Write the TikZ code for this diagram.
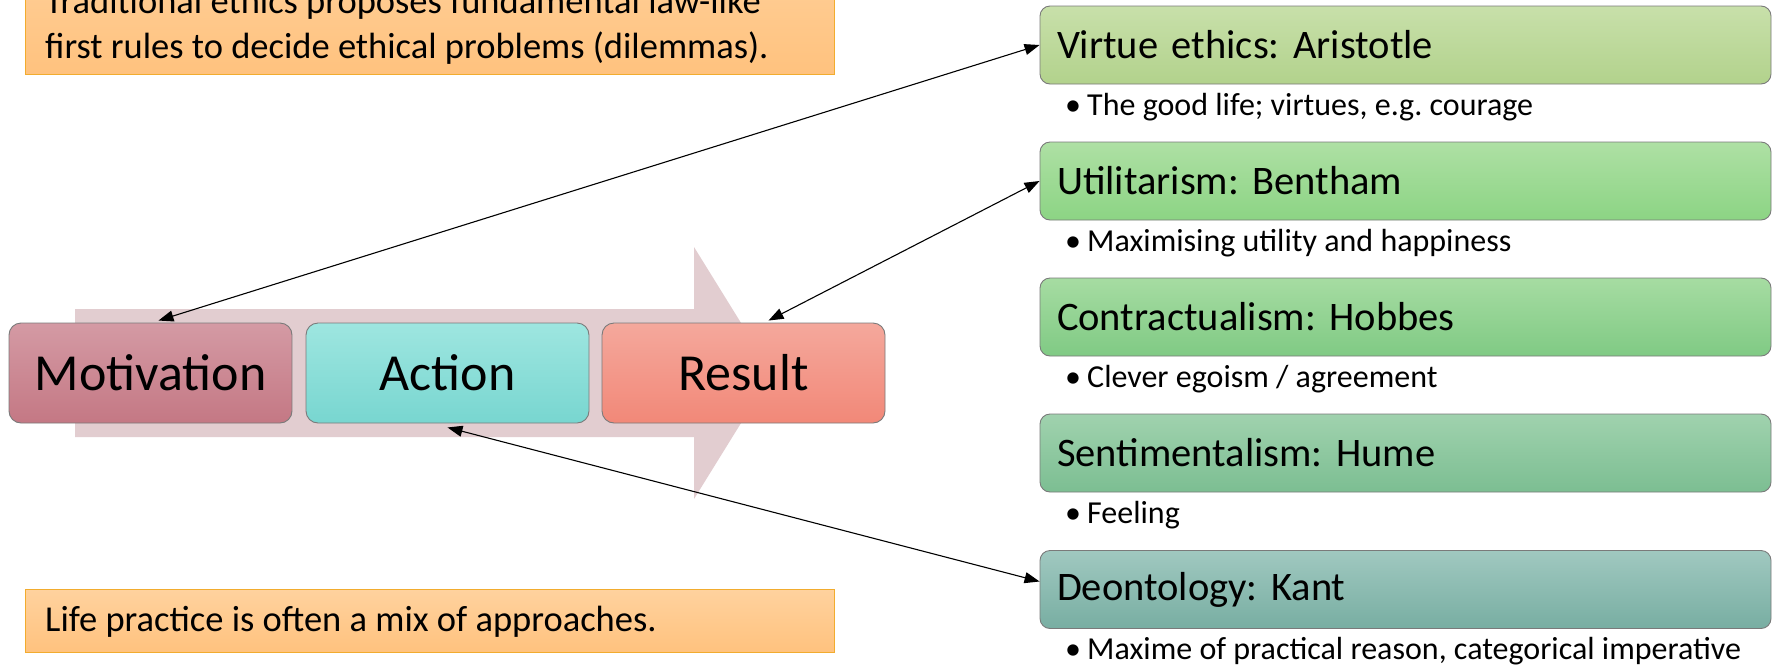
\documentclass[tikz,border=0pt]{standalone}
\usepackage{fontspec}
\setmainfont{Carlito}
\usetikzlibrary{arrows.meta,calc}
\frenchspacing

\definecolor{flowbg}{HTML}{E2CDD0}
\definecolor{motTop}{HTML}{D49AA4}
\definecolor{motBot}{HTML}{C47884}
\definecolor{actTop}{HTML}{9EE6E0}
\definecolor{actBot}{HTML}{78D6D0}
\definecolor{resTop}{HTML}{F4A89C}
\definecolor{resBot}{HTML}{F28878}
\definecolor{virTop}{HTML}{C8E0AA}
\definecolor{virBot}{HTML}{B2D28C}
\definecolor{utiTop}{HTML}{AEE0A4}
\definecolor{utiBot}{HTML}{8CD484}
\definecolor{conTop}{HTML}{A6DCA2}
\definecolor{conBot}{HTML}{80CA84}
\definecolor{senTop}{HTML}{A0D2AE}
\definecolor{senBot}{HTML}{7CBE92}
\definecolor{deoTop}{HTML}{A0C8C0}
\definecolor{deoBot}{HTML}{78AEA2}
\definecolor{noteTop}{HTML}{FFD29E}
\definecolor{noteBot}{HTML}{FFC27E}
\definecolor{noteEdge}{HTML}{F2AC2E}
\definecolor{boxEdge}{HTML}{7A7A7A}

\tikzset{
  stage/.style={rounded corners=12pt, draw=boxEdge, line width=0.9pt,
    minimum width=283pt, minimum height=100pt, inner sep=0pt,
    font=\fontsize{52}{60}\selectfont},
  school/.style={rounded corners=10pt, draw=boxEdge, line width=0.9pt,
    minimum width=731pt, minimum height=78pt, inner xsep=17pt, inner ysep=0pt,
    text width=697pt, align=left, font=\fontsize{40.5}{46}\selectfont},
  point/.style={anchor=west, inner sep=0pt, font=\fontsize{32}{37}\selectfont},
  notebox/.style={draw=noteEdge, line width=0.9pt, top color=noteTop,
    bottom color=noteBot, minimum width=809pt, inner sep=0pt},
  notetext/.style={inner sep=0pt, font=\fontsize{36.5}{42}\selectfont},
  link/.style={line width=1.1pt, {Triangle[length=15pt,width=11pt]}-{Triangle[length=15pt,width=11pt]}}
}

\newcommand{\bul}[1]{\makebox[22pt][l]{•}#1}

\begin{document}
\begin{tikzpicture}[x=1pt,y=-1pt]
\useasboundingbox (0,0) rectangle (1779,667);
\clip (0,0) rectangle (1779,667);
\fill[white] (0,0) rectangle (1779,667);

% process arrow behind the three stages
\fill[flowbg] (75,309) -- (694,309) -- (694,247) -- (772,373) -- (694,499)
  -- (694,437) -- (75,437) -- cycle;

% stages
\node[stage, top color=motTop, bottom color=motBot] (mot) at (150.5,373) {Motivation};
\node[stage, top color=actTop, bottom color=actBot] (act) at (447.5,373) {Action};
\node[stage, top color=resTop, bottom color=resBot] (res) at (743.5,373) {Result};

% ethical schools
\node[school, top color=virTop, bottom color=virBot] (vir) at (1405.5,45) {Virtue ethics: Aristotle};
\node[school, top color=utiTop, bottom color=utiBot] (uti) at (1405.5,181) {Utilitarism: Bentham};
\node[school, top color=conTop, bottom color=conBot] (con) at (1405.5,317) {Contractualism: Hobbes};
\node[school, top color=senTop, bottom color=senBot] (sen) at (1405.5,453) {Sentimentalism: Hume};
\node[school, top color=deoTop, bottom color=deoBot] (deo) at (1405.5,589.5) {Deontology: Kant};

\node[point] (virp) at (1065,107) {\bul{The good life; virtues, e.g. courage}};
\node[point] (utip) at (1065,243) {\bul{Maximising utility and happiness}};
\node[point] (conp) at (1065,379) {\bul{Clever egoism / agreement}};
\node[point] (senp) at (1065,515) {\bul{Feeling}};
\node[point] (deop) at (1065,651) {\bul{Maxime of practical reason, categorical imperative}};

% notes
\node[notebox, anchor=south west, minimum height=140pt] (trad) at (25,75) {};
\node[notetext, anchor=base west] (trad1) at (45,13) {Traditional ethics proposes fundamental law-like};
\node[notetext, anchor=base west] (trad2) at (45,58) {first rules to decide ethical problems (dilemmas).};
\node[notebox, anchor=north west, minimum height=63pt] (life) at (25,589) {};
\node[notetext, anchor=west] (lifet) at (45,622) {Life practice is often a mix of approaches.};

% connectors
\draw[link] ([xshift=8pt,yshift=2pt]mot.north) -- (vir.west);
\draw[link] ([xshift=25pt,yshift=2pt]res.north) -- (uti.west);
\draw[link] ([yshift=-4pt]act.south) -- ([yshift=8pt]deo.west);
\end{tikzpicture}
\end{document}
